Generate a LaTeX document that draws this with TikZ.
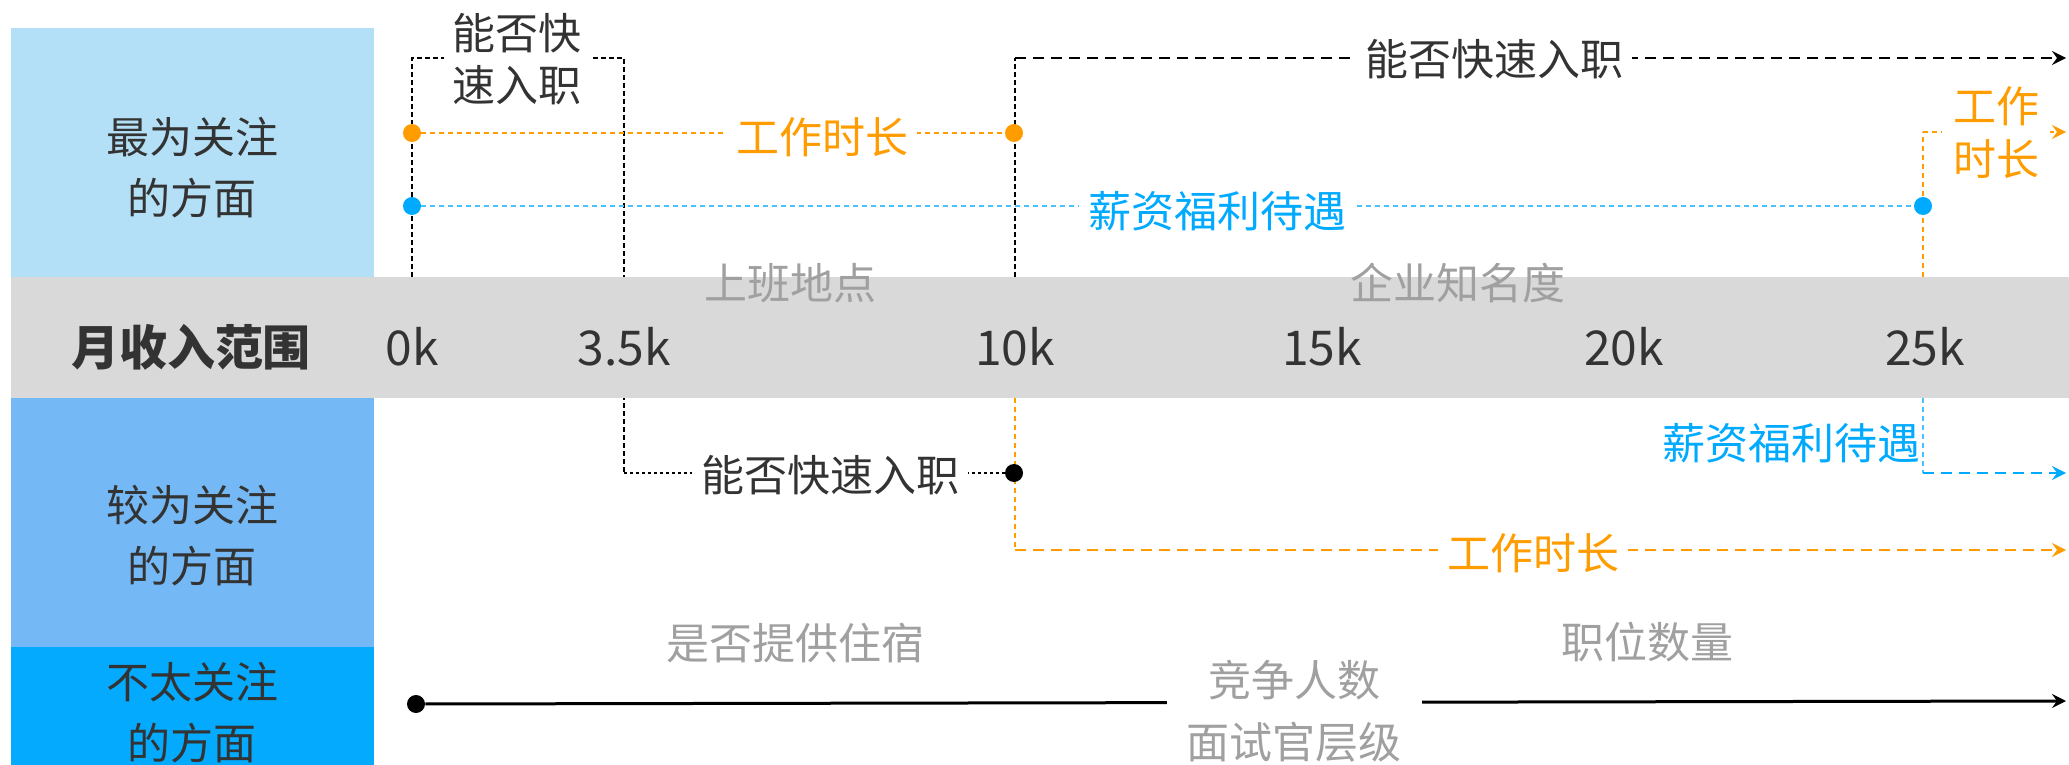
\documentclass[tikz,border=0pt]{standalone}
\usepackage{fontspec}
\setmainfont{Noto Sans CJK SC}
\usetikzlibrary{arrows.meta}
\pgfdeclarelayer{lines}
\pgfdeclarelayer{bandlayer}
\pgfsetlayers{lines,bandlayer,main}
\definecolor{boxA}{HTML}{B3E0F7}
\definecolor{boxB}{HTML}{74B9F5}
\definecolor{boxC}{HTML}{03AAFD}
\definecolor{bandc}{HTML}{D9D9D9}
\definecolor{ink}{HTML}{333333}
\definecolor{org}{HTML}{FF9C00}
\definecolor{blu}{HTML}{00AAFF}
\definecolor{bluL}{HTML}{47C3FF}
\definecolor{gtxt}{HTML}{A0A0A0}
\begin{document}
\begin{tikzpicture}[x=0.5pt,y=-0.5pt,
  base/.style={inner sep=0pt, font=\fontsize{21.5}{26}\selectfont, text=ink},
  gap/.style={base, fill=white, inner xsep=4.5pt},
  head/.style={base, align=center, font=\fontsize{21.5}{30.5}\selectfont},
  tick/.style={base, font=\fontsize{24}{28}\selectfont},
  grayt/.style={base, text=gtxt},
  blob/.style={circle, fill=#1, draw=none, inner sep=0pt, minimum size=9pt},
  arr/.style={-{Stealth[length=7pt,width=7pt,inset=2.5pt]}},
  thinK/.style={draw=black, line width=0.6pt, dash pattern=on 2.5pt off 1.5pt},
  dotK/.style={draw=black, line width=0.6pt, dash pattern=on 1.5pt off 1.5pt},
  thinO/.style={draw=org, line width=0.75pt, dash pattern=on 2.5pt off 2pt},
  thinB/.style={draw=bluL, line width=0.9pt, dash pattern=on 2.5pt off 2pt},
  thickK/.style={draw=black, line width=1.4pt, dash pattern=on 5.5pt off 3.5pt},
  thickO/.style={draw=org, line width=1.4pt, dash pattern=on 5.5pt off 3.5pt},
  thickB/.style={draw=blu, line width=1.4pt, dash pattern=on 5.5pt off 3.5pt},
  solidK/.style={draw=black, line width=1.5pt}]
\useasboundingbox (0,0) rectangle (2069,765);

% left column
\fill[boxA] (11,28) rectangle (374,277);
\fill[boxB] (11,398) rectangle (374,647);
\fill[boxC] (11,647) rectangle (374,765);
\node[head] (r1) at (192,167.5) {最为关注\\的方面};
\node[head] (r2) at (192,536) {较为关注\\的方面};
\node[head] (r3) at (192,712.5) {不太关注\\的方面};

% band
\begin{pgfonlayer}{bandlayer}
\fill[bandc] (11,277) rectangle (2069,398);
\end{pgfonlayer}
\node[base, font=\fontsize{24}{28}\selectfont\bfseries] (axis) at (191,347) {月收入范围};
\node[tick] (k0) at (412,347) {0k};
\node[tick] (k35) at (624,347) {3.5k};
\node[tick] (k10) at (1015,347) {10k};
\node[tick] (k15) at (1322,347) {15k};
\node[tick] (k20) at (1624,347) {20k};
\node[tick] (k25) at (1925,347) {25k};

% coordinates
\coordinate (c0top) at (412,58);   \coordinate (c0band) at (412,277);
\coordinate (c35top) at (624,58);  \coordinate (c35low) at (624,473);
\coordinate (c10top) at (1015,58); \coordinate (c10band) at (1015,277);
\coordinate (c10bot) at (1015,398); \coordinate (c10low) at (1015,550);
\coordinate (c25top) at (1923,132); \coordinate (c25band) at (1923,277);
\coordinate (c25bot) at (1923,398); \coordinate (c25low) at (1923,473);
\coordinate (eK) at (2066,58);
\coordinate (eO1) at (2066,132);
\coordinate (eB) at (2066,473);
\coordinate (eO2) at (2066,550);
\coordinate (eL) at (2066,701);

% dots
\node[blob=org] (oA) at (412,133) {};
\node[blob=org] (oB) at (1014,133) {};
\node[blob=blu] (bA) at (412,206) {};
\node[blob=blu] (bB) at (1923,206) {};
\node[blob=black] (kA) at (1014,473) {};
\node[blob=black] (kB) at (416,704) {};

% labels
\node[gap, align=center] (q1) at (517,59) {能否快\\速入职};
\node[gap, text=org] (w1) at (822,137) {工作时长};
\node[gap, text=blu] (s1) at (1217,211) {薪资福利待遇};
\node[gap] (q2) at (1494,59) {能否快速入职};
\node[gap, text=org, align=center, inner xsep=5.5pt, font=\fontsize{21.5}{26.5}\selectfont] (w2) at (1996,133) {工作\\时长};
\node[gap] (q3) at (830,475) {能否快速入职};
\node[base, text=blu] (s2) at (1791,443) {薪资福利待遇};
\node[gap, text=org] (w3) at (1533,553) {工作时长};
\node[grayt] (g1) at (790,283) {上班地点};
\node[grayt] (g2) at (1458,283) {企业知名度};
\node[grayt] (g3) at (795,643) {是否提供住宿};
\node[grayt] (g4) at (1647,642) {职位数量};
\node[grayt, fill=white, align=center, inner xsep=10pt, font=\fontsize{21.5}{31}\selectfont] (g5) at (1294,711) {竞争人数\\面试官层级};

% connectors
\begin{pgfonlayer}{lines}
\draw[thinK] (c0band) -- (c0top) -- (c35top) -- (c35low);
\draw[dotK] (c35low) -- (kA);
\draw[thinO] (oA) -- (oB);
\draw[thinB] (bA) -- (bB);
\draw[thinK] (c10band) -- (c10top);
\draw[thickK, arr] (c10top) -- (eK);
\draw[thinO] (c25band) -- (c25top);
\draw[thinO, arr] (c25top) -- (eO1);
\draw[thinO] (c10bot) -- (c10low);
\draw[thickO, arr] (c10low) -- (eO2);
\draw[thinB] (c25bot) -- (c25low);
\draw[thickB, arr] (c25low) -- (eB);
\draw[solidK, arr] (kB) -- (eL);
\end{pgfonlayer}
\end{tikzpicture}
\end{document}
